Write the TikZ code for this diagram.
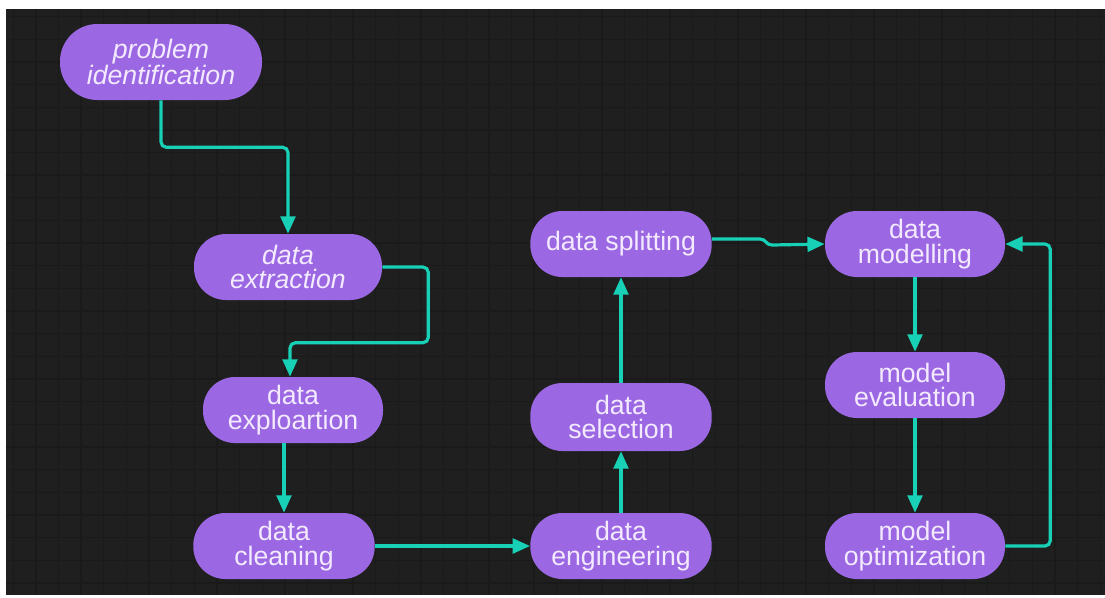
\documentclass[tikz,border=0pt]{standalone}
\usepackage{fontspec}
\setmainfont{Liberation Sans}
\usetikzlibrary{arrows.meta,calc}
\definecolor{bgdark}{RGB}{31,31,31}
\definecolor{gridc}{RGB}{26,26,26}
\definecolor{nodefill}{RGB}{155,103,226}
\definecolor{nodetext}{RGB}{243,234,255}
\definecolor{arrowc}{RGB}{24,208,182}
\begin{document}
\begin{tikzpicture}[x=0.75pt,y=-0.75pt,
  stadium/.style={fill=nodefill, text=nodetext, rounded corners=24pt,
    minimum width=135pt, minimum height=49.5pt, align=center,
    font=\fontsize{20}{18.5}\selectfont, inner sep=0pt},
  slanted/.style={font=\fontsize{20}{18.5}\selectfont\itshape},
  conn/.style={draw=arrowc, line width=2.4pt, rounded corners=4pt,
    -{Triangle[length=13pt,width=11pt]}},
  gridline/.style={draw=gridc, line width=1pt}]
\useasboundingbox (0,0) rectangle (1105,597);
\fill[white] (0,0) rectangle (1105,597);
\fill[bgdark] (6,9) rectangle (1105,595);
\begin{scope}
  \clip (6,9) rectangle (1105,595);
  \foreach \i in {0,...,48} {\draw[gridline] ({13.2+\i*22.65},9) -- ({13.2+\i*22.65},595);}
  \foreach \j in {0,...,26} {\draw[gridline] (6,{16.6+\j*22.65}) -- (1105,{16.6+\j*22.65});}
\end{scope}

\node[stadium, slanted, minimum width=151.5pt, minimum height=57pt, rounded corners=28pt] (pi) at (161,62) {problem\\identification};
\node[stadium, slanted, minimum width=141pt] (ext) at (288,267) {data\\extraction};
\node[stadium] (expl) at (293,410) {data\\exploartion};
\node[stadium, minimum width=136pt] (clean) at (284,546) {data\\cleaning};
\node[stadium, minimum width=136pt] (eng) at (621,546) {data\\engineering};
\node[stadium, minimum width=136pt, minimum height=51pt] (sel) at (621,417) {data\\selection};
\node[stadium, minimum width=136pt] (split) at (621,244) {data splitting};
\node[stadium] (model) at (915,244) {data\\modelling};
\node[stadium] (eval) at (915,385) {model\\evaluation};
\node[stadium] (opt) at (915,546) {model\\optimization};

\draw[conn] (pi.south) -- ++(0,47) -| (ext.north);
\draw[conn] (ext.east) -- ++(46,0) |- ($(expl.north)+(-3,-34)$) -- ($(expl.north)+(-3,0)$);
\draw[conn] (clean.north |- expl.south) -- (clean.north);
\draw[conn] (clean.east) -- (eng.west);
\draw[conn] (eng.north) -- (sel.south);
\draw[conn] (sel.north) -- (split.south);
\coordinate (jogA) at ($(split.east)+(48,-5)$);
\coordinate (jogB) at ($(split.east)+(60,1)$);
\draw[conn, rounded corners=0pt] ($(split.east)+(0,-5)$) -- (jogA) .. controls +(6,0) and +(-6,0) .. (jogB) -- (model.west);
\draw[conn] (model.south) -- (eval.north);
\draw[conn] (eval.south) -- (opt.north);
\draw[conn] (opt.east) -- ++(45,0) |- (model.east);
\end{tikzpicture}
\end{document}
